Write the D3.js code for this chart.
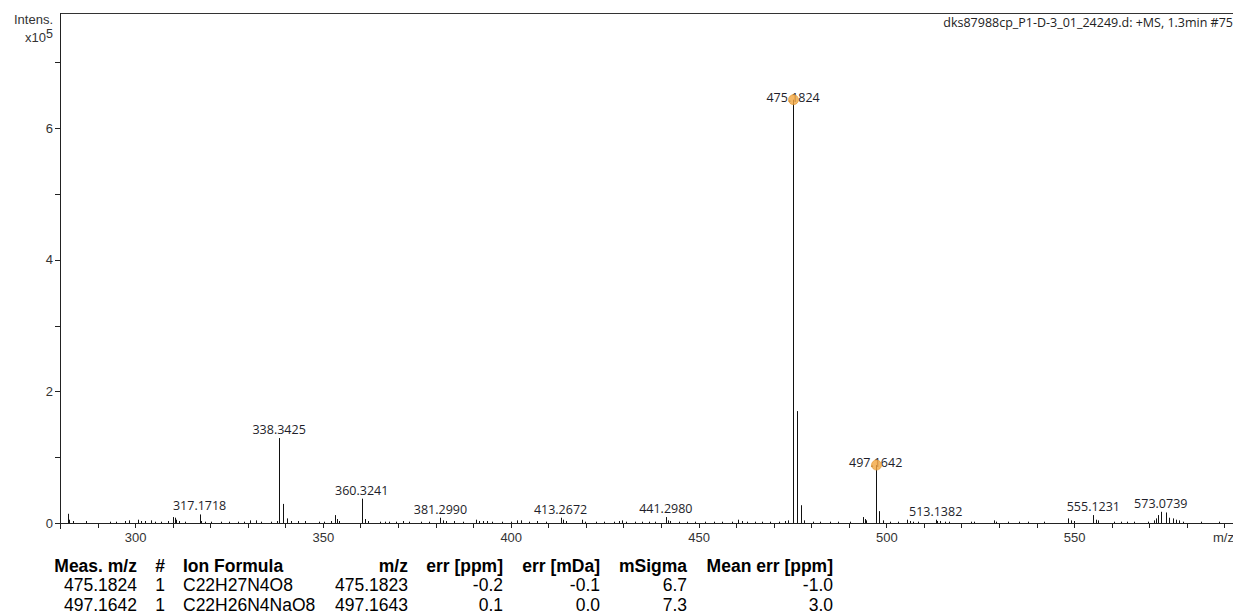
<!DOCTYPE html>
<html>
<head>
<meta charset="utf-8">
<script src="https://cdn.jsdelivr.net/npm/d3@7"></script>
<style>
  body { margin: 0; background: #fff; }
  svg { display: block; }
  .axis text { font-family: "Liberation Sans", Arial, sans-serif; font-size: 13px; fill: #333; }
  .axis path, .axis line { stroke: #222; shape-rendering: crispEdges; }
  .plabel { font-family: "Open Sans", sans-serif; font-size: 12.5px; fill: #1e1e2a; }
  .tbl { font-family: "Liberation Sans", Arial, sans-serif; font-size: 17.5px; fill: #000; }
</style>
</head>
<body>
<div id="chart"></div>
<script>
// peak list, intensity in units of 1e5
var peakMz = [
  282.0, 282.4, 283.5, 287.0, 293.2, 295.0, 297.2, 298.5, 300.7, 301.6,
  302.7, 304.1, 305.2, 306.9, 308.7, 310.1, 310.5, 311.0, 311.8, 313.2,
  317.1718, 317.6, 318.5, 320.2, 322.9, 325.1, 327.3, 329.1, 330.7, 332.2,
  333.5, 336.2, 337.8, 338.3425, 339.3458, 340.35, 341.5, 343.3, 345.1, 349.0,
  350.4, 352.2, 353.2, 353.8, 354.4, 360.3241, 361.33, 362.0, 365.1, 366.4,
  367.7, 369.5, 371.2, 373.0, 376.1, 378.3, 381.2990, 381.9, 382.8, 385.0,
  387.2, 390.7, 391.6, 392.5, 393.8, 395.1, 397.8, 400.0, 401.8, 402.7,
  404.9, 407.1, 409.3, 413.2672, 413.8, 414.8, 419.0, 419.9, 422.6, 424.8,
  427.5, 428.8, 429.5, 430.6, 433.2, 435.0, 436.7, 438.5, 441.2980, 441.8,
  442.5, 444.7, 446.9, 449.1, 451.8, 454.0, 456.2, 458.8, 460.6, 461.5,
  462.8, 465.1, 466.8, 469.1, 471.3, 473.0, 473.9, 475.1824, 476.1857, 477.19,
  478.19, 480.5, 482.3, 484.9, 487.2, 490.3, 493.8, 494.2, 494.7, 497.1642,
  498.17, 499.17, 500.9, 503.1, 505.5, 506.2, 507.1, 508.4, 513.1382, 513.6,
  514.2, 515.5, 516.8, 522.6, 523.4, 528.6, 529.2, 532.3, 535.4, 537.6,
  542.1, 548.3, 549.2, 550.1, 555.1231, 555.7, 556.3, 560.7, 562.5, 564.2,
  566.0, 569.6, 571.3, 571.8, 572.4, 573.0739, 574.4, 575.3, 576.2, 577.1,
  578.0, 578.9, 583.7, 588.6
]
var peakInt = [
  0.14, 0.05, 0.03, 0.03, 0.02, 0.02, 0.03, 0.04, 0.05, 0.03,
  0.03, 0.04, 0.02, 0.02, 0.03, 0.09, 0.08, 0.05, 0.03, 0.02,
  0.13, 0.03, 0.02, 0.02, 0.02, 0.02, 0.02, 0.02, 0.04, 0.04,
  0.02, 0.02, 0.03, 1.29, 0.29, 0.07, 0.03, 0.03, 0.03, 0.02,
  0.02, 0.03, 0.12, 0.06, 0.03, 0.37, 0.06, 0.03, 0.02, 0.02,
  0.02, 0.02, 0.03, 0.02, 0.02, 0.02, 0.08, 0.04, 0.03, 0.03,
  0.02, 0.05, 0.03, 0.03, 0.03, 0.02, 0.02, 0.02, 0.04, 0.04,
  0.02, 0.03, 0.02, 0.08, 0.05, 0.03, 0.05, 0.02, 0.02, 0.02,
  0.02, 0.03, 0.04, 0.02, 0.02, 0.02, 0.02, 0.02, 0.09, 0.04,
  0.03, 0.02, 0.02, 0.02, 0.02, 0.02, 0.02, 0.02, 0.05, 0.03,
  0.02, 0.02, 0.02, 0.02, 0.02, 0.03, 0.04, 6.43, 1.70, 0.27,
  0.04, 0.02, 0.02, 0.02, 0.02, 0.02, 0.09, 0.06, 0.04, 0.88,
  0.18, 0.04, 0.02, 0.02, 0.05, 0.03, 0.02, 0.02, 0.05, 0.03,
  0.03, 0.02, 0.02, 0.02, 0.02, 0.04, 0.02, 0.02, 0.02, 0.02,
  0.02, 0.07, 0.04, 0.03, 0.12, 0.05, 0.04, 0.02, 0.02, 0.02,
  0.02, 0.02, 0.04, 0.07, 0.12, 0.17, 0.16, 0.08, 0.07, 0.05,
  0.04, 0.02, 0.02, 0.02
]

// labelled peaks and the two assigned ones (orange markers)
var labelMz = [317.1718, 338.3425, 360.3241, 381.2990, 413.2672, 441.2980, 475.1824, 497.1642, 513.1382, 555.1231, 573.0739]
var labelText = ['317.1718', '338.3425', '360.3241', '381.2990', '413.2672', '441.2980', '475.1824', '497.1642', '513.1382', '555.1231', '573.0739']
var markMz = [475.1824, 497.1642]

var xTicks = d3.range(280, 591, 10)
var xLabels = [300, 350, 400, 450, 500, 550]
var yTicks = [0, 1, 2, 3, 4, 5, 6, 7]
var yLabels = [0, 2, 4, 6]

var title = 'dks87988cp_P1-D-3_01_24249.d: +MS, 1.3min #75'

// result table
var tableCols = ['Meas. m/z', '#', 'Ion Formula', 'm/z', 'err [ppm]', 'err [mDa]', 'mSigma', 'Mean err [ppm]']
var measMz = ['475.1824', '497.1642']
var ionNo = ['1', '1']
var ionFormula = ['C22H27N4O8', 'C22H26N4NaO8']
var calcMz = ['475.1823', '497.1643']
var errPpm = ['-0.2', '0.1']
var errMda = ['-0.1', '0.0']
var mSigma = ['6.7', '7.3']
var meanErr = ['-1.0', '3.0']

var width = 1233, height = 614

var svg = d3.select('#chart').append('svg')
  .attr('width', width).attr('height', height)

var x = d3.scaleLinear().domain([280, 592.3]).range([60, 1233])
var y = d3.scaleLinear().domain([0, 7.747]).range([523, 13])

var peaks = peakMz.map(function(d, i){ return {mz: d, v: peakInt[i]} })
var byMz = {}
peaks.forEach(function(d){ byMz[d.mz] = d.v })

// top frame line
svg.append('line')
  .attr('x1', x.range()[0]).attr('x2', x.range()[1])
  .attr('y1', y.range()[1] + 0.5).attr('y2', y.range()[1] + 0.5)
  .attr('stroke', '#333')

// axes
var xAxis = d3.axisBottom(x)
  .tickValues(xTicks)
  .tickSize(5)
  .tickSizeOuter(0)
  .tickPadding(5)
  .tickFormat(function(d){ return xLabels.indexOf(d) >= 0 ? d : '' })

svg.append('g').attr('class', 'axis')
  .attr('transform', 'translate(0,' + y(0) + ')')
  .call(xAxis)

var yAxis = d3.axisLeft(y)
  .tickValues(yTicks)
  .tickSize(5)
  .tickSizeOuter(0)
  .tickPadding(2)
  .tickFormat(function(d){ return yLabels.indexOf(d) >= 0 ? d : '' })

var yg = svg.append('g').attr('class', 'axis')
  .attr('transform', 'translate(' + x(280) + ',0)')
  .call(yAxis)
// left axis runs a bit below the baseline
yg.select('.domain').attr('d', 'M0.5,' + y.range()[1] + 'V' + (y(0) + 6))

// axis titles
var at = svg.append('g').attr('font-family', '"Liberation Sans", Arial, sans-serif')
  .attr('font-size', 13).attr('fill', '#333')
at.append('text').attr('x', 53).attr('y', 24).attr('text-anchor', 'end').text('Intens.')
var mult = at.append('text').attr('x', 53).attr('y', 42).attr('text-anchor', 'end')
mult.append('tspan').text('x10')
mult.append('tspan').attr('dy', -4.5).attr('font-size', 12.5).text('5')
at.append('text').attr('x', 1213).attr('y', 542).text('m/z')

svg.append('text')
  .attr('x', 1233).attr('y', 27)
  .attr('text-anchor', 'end')
  .attr('font-family', '"Open Sans", sans-serif')
  .attr('font-size', 12.5)
  .attr('fill', '#222')
  .text(title)

// spectrum sticks
svg.append('g').selectAll('line').data(peaks).join('line')
  .attr('x1', function(d){ return Math.round(x(d.mz)) + 0.5 })
  .attr('x2', function(d){ return Math.round(x(d.mz)) + 0.5 })
  .attr('y1', y(0))
  .attr('y2', function(d){ return y(d.v) })
  .attr('stroke', '#111')
  .attr('stroke-width', 1)

// peak labels
svg.append('g').selectAll('text').data(labelMz).join('text')
  .attr('class', 'plabel')
  .attr('x', function(d){ return x(d) })
  .attr('y', function(d){ return y(byMz[d]) - (markMz.indexOf(d) >= 0 ? -2 : 4) })
  .attr('text-anchor', 'middle')
  .text(function(d, i){ return labelText[i] })

// assigned-peak markers
svg.append('g').selectAll('circle').data(markMz).join('circle')
  .attr('cx', function(d){ return Math.round(x(d)) + 0.5 })
  .attr('cy', function(d){ return y(byMz[d]) })
  .attr('r', 5)
  .attr('fill', '#f2a640')
  .attr('fill-opacity', 0.8)
  .attr('stroke', '#e0962e')
  .attr('stroke-width', 0.6)

// table: column anchors
var colX = [137, 160, 183, 408, 503, 600, 687, 833]
var colAnchor = ['end', 'middle', 'start', 'end', 'end', 'end', 'end', 'end']
var rows = measMz.map(function(d, i){
  return [d, ionNo[i], ionFormula[i], calcMz[i], errPpm[i], errMda[i], mSigma[i], meanErr[i]]
})

var tbl = svg.append('g').attr('class', 'tbl')
tbl.selectAll('text.head').data(tableCols).join('text')
  .attr('class', 'head')
  .attr('x', function(d, i){ return colX[i] })
  .attr('y', 572)
  .attr('text-anchor', function(d, i){ return colAnchor[i] })
  .attr('font-weight', 'bold')
  .text(function(d){ return d })

rows.forEach(function(r, ri){
  tbl.append('g').selectAll('text').data(r).join('text')
    .attr('x', function(d, i){ return colX[i] })
    .attr('y', 591 + ri * 19.5)
    .attr('text-anchor', function(d, i){ return colAnchor[i] })
    .text(function(d){ return d })
})
</script>
</body>
</html>
